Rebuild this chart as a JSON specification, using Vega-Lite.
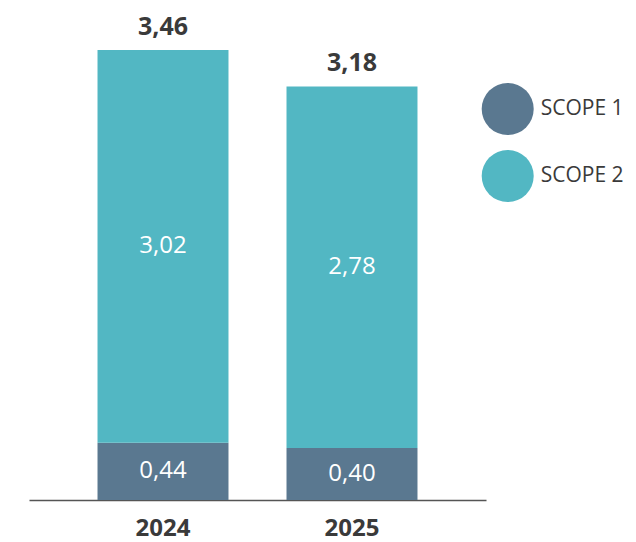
{
  "$schema": "https://vega.github.io/schema/vega-lite/v6.json",
  "autosize": {"type": "none"},
  "width": 457,
  "height": 450,
  "padding": {"left": 29, "top": 50, "right": 150, "bottom": 42},
  "config": {
    "view": {"stroke": null},
    "font": "Open Sans",
    "locale": {"number": {"decimal": ",", "thousands": ".", "grouping": [3], "currency": ["", " €"]}}
  },
  "data": {"values": [
    {"year": "2024", "scope": "SCOPE 1", "value": 0.44},
    {"year": "2024", "scope": "SCOPE 2", "value": 3.02},
    {"year": "2025", "scope": "SCOPE 1", "value": 0.40},
    {"year": "2025", "scope": "SCOPE 2", "value": 2.78}
  ]},
  "encoding": {
    "x": {
      "field": "year", "type": "nominal",
      "scale": {"paddingInner": 0.307, "paddingOuter": 0.3625},
      "axis": {
        "title": null, "labelAngle": 0, "ticks": false, "grid": false,
        "domainColor": "#555555", "domainWidth": 1.5,
        "labelFontSize": 24, "labelFontWeight": "bold", "labelColor": "#3a3a3a",
        "labelPadding": 16, "labelFont": "Open Sans"
      }
    }
  },
  "layer": [
    {
      "mark": {"type": "bar"},
      "encoding": {
        "y": {"field": "value", "type": "quantitative", "stack": "zero",
              "scale": {"domain": [0, 3.46], "nice": false}, "axis": null},
        "color": {
          "field": "scope", "type": "nominal",
          "scale": {"domain": ["SCOPE 1", "SCOPE 2"], "range": ["#5a7890", "#52b7c3"]},
          "legend": {
            "title": null, "orient": "none", "legendX": 452.7, "legendY": 33,
            "symbolType": "circle", "symbolSize": 2704, "symbolStrokeWidth": 0,
            "rowPadding": 15, "labelOffset": 7, "padding": 0,
            "labelFontSize": 21, "labelColor": "#3a3a3a", "labelFont": "Open Sans"
          }
        },
        "order": {"field": "scope", "sort": "ascending"}
      }
    },
    {
      "mark": {"type": "text", "color": "white", "fontSize": 24, "fontWeight": "normal", "baseline": "middle"},
      "encoding": {
        "y": {"field": "value", "type": "quantitative", "stack": "zero", "bandPosition": 0.5},
        "text": {"field": "value", "type": "quantitative", "format": ".2f"},
        "order": {"field": "scope", "sort": "ascending"}
      }
    },
    {
      "transform": [{"aggregate": [{"op": "sum", "field": "value", "as": "total"}], "groupby": ["year"]}],
      "mark": {"type": "text", "baseline": "alphabetic", "dy": -15, "fontSize": 25, "fontWeight": "bold", "color": "#3a3a3a"},
      "encoding": {
        "y": {"field": "total", "type": "quantitative"},
        "text": {"field": "total", "type": "quantitative", "format": ".2f"}
      }
    }
  ]
}
